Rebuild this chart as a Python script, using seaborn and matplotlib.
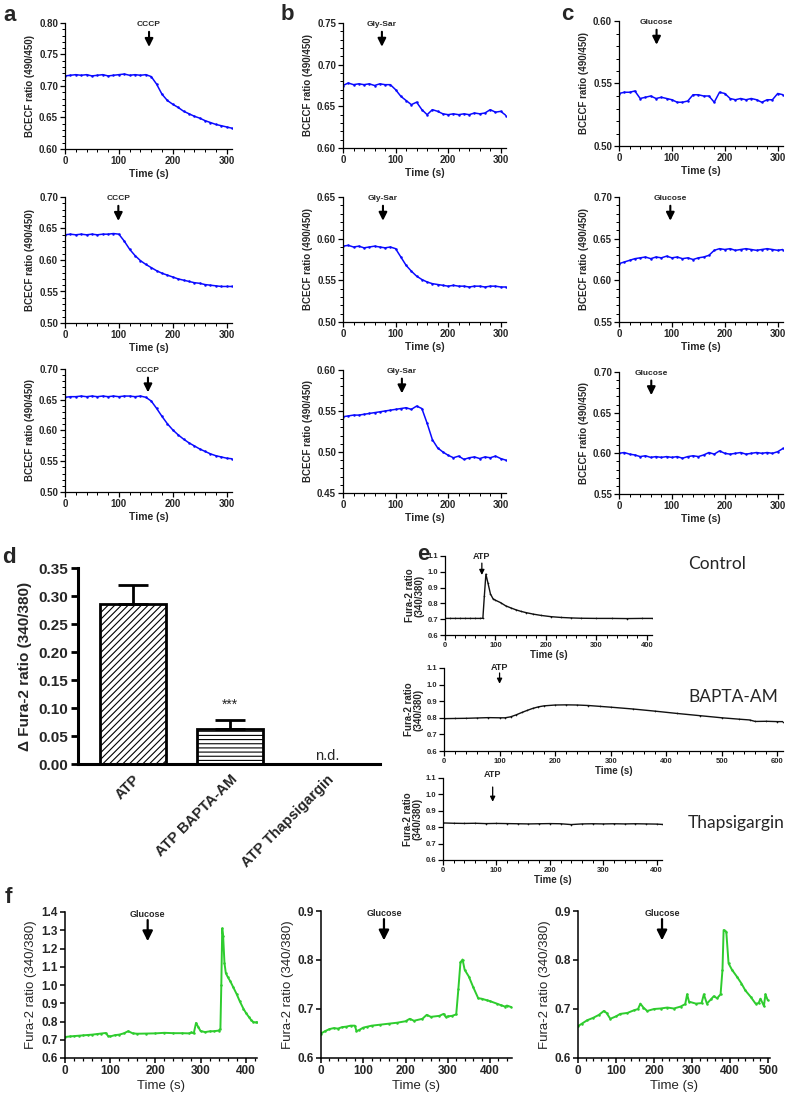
import numpy as np
import pandas as pd
import matplotlib
matplotlib.use('Agg')
import matplotlib.pyplot as plt
import seaborn as sns
from matplotlib.ticker import MultipleLocator, FormatStrFormatter

W, H = 787, 1095
BLUE = '#0a0aff'
GREEN = '#2ecc2e'

# ---- a-c: BCECF ratio traces, one reading every 10 s ----
BCECF_TIME = np.arange(0, 320, 10)

CCCP_1 = [0.716, 0.717, 0.718, 0.717, 0.718, 0.716, 0.717, 0.718, 0.716, 0.717, 0.718, 0.719, 0.717, 0.718, 0.717, 0.718,
          0.715, 0.703, 0.687, 0.677, 0.671, 0.666, 0.660, 0.656, 0.652, 0.649, 0.645, 0.642, 0.639, 0.637, 0.635, 0.633]
CCCP_2 = [0.640, 0.641, 0.640, 0.641, 0.640, 0.641, 0.640, 0.641, 0.641, 0.642, 0.641, 0.630, 0.617, 0.607, 0.599, 0.593,
          0.588, 0.583, 0.579, 0.576, 0.573, 0.570, 0.568, 0.566, 0.564, 0.563, 0.561, 0.560, 0.559, 0.558, 0.558, 0.558]
CCCP_3 = [0.654, 0.655, 0.655, 0.656, 0.655, 0.656, 0.655, 0.656, 0.655, 0.656, 0.655, 0.656, 0.656, 0.655, 0.656, 0.654,
          0.648, 0.636, 0.623, 0.611, 0.601, 0.593, 0.586, 0.580, 0.575, 0.570, 0.566, 0.562, 0.559, 0.557, 0.555, 0.554]

GLYSAR_1 = [0.675, 0.678, 0.676, 0.677, 0.676, 0.677, 0.675, 0.677, 0.676, 0.676, 0.670, 0.662, 0.657, 0.652, 0.655, 0.646,
            0.640, 0.646, 0.644, 0.641, 0.640, 0.641, 0.640, 0.641, 0.640, 0.642, 0.641, 0.642, 0.646, 0.643, 0.644, 0.639]
GLYSAR_2 = [0.591, 0.592, 0.590, 0.591, 0.589, 0.590, 0.591, 0.590, 0.589, 0.590, 0.588, 0.578, 0.568, 0.561, 0.555, 0.551,
            0.548, 0.546, 0.545, 0.544, 0.543, 0.544, 0.543, 0.543, 0.542, 0.543, 0.543, 0.542, 0.543, 0.543, 0.542, 0.542]
GLYSAR_3 = [0.543, 0.544, 0.545, 0.545, 0.546, 0.547, 0.548, 0.549, 0.550, 0.551, 0.552, 0.553, 0.554, 0.552, 0.556, 0.553,
            0.535, 0.515, 0.505, 0.500, 0.496, 0.493, 0.495, 0.491, 0.493, 0.494, 0.492, 0.494, 0.493, 0.495, 0.492, 0.490]

GLUC_1 = [0.542, 0.543, 0.543, 0.544, 0.538, 0.539, 0.540, 0.538, 0.539, 0.538, 0.537, 0.535, 0.535, 0.536, 0.541, 0.541,
          0.540, 0.540, 0.535, 0.543, 0.542, 0.538, 0.537, 0.538, 0.537, 0.538, 0.537, 0.535, 0.537, 0.537, 0.542, 0.541]
GLUC_2 = [0.620, 0.622, 0.624, 0.626, 0.627, 0.628, 0.626, 0.628, 0.627, 0.629, 0.627, 0.628, 0.626, 0.627, 0.625, 0.627,
          0.628, 0.630, 0.636, 0.638, 0.637, 0.638, 0.636, 0.637, 0.638, 0.637, 0.636, 0.637, 0.638, 0.637, 0.636, 0.637]
GLUC_3 = [0.600, 0.601, 0.599, 0.598, 0.596, 0.597, 0.595, 0.596, 0.595, 0.596, 0.595, 0.596, 0.594, 0.596, 0.597, 0.596,
          0.598, 0.601, 0.599, 0.603, 0.600, 0.599, 0.600, 0.601, 0.599, 0.600, 0.601, 0.600, 0.601, 0.600, 0.602, 0.606]

CCCP_ADD = [156, 99, 154]
GLYSAR_ADD = [74, 76, 112]
GLUC_ADD = [71, 97, 61]

CCCP_YLIM = [(0.60, 0.80), (0.50, 0.70), (0.50, 0.70)]
GLYSAR_YLIM = [(0.60, 0.75), (0.50, 0.65), (0.45, 0.60)]
GLUC_YLIM = [(0.50, 0.60), (0.55, 0.70), (0.55, 0.70)]

# ---- d: delta Fura-2 ratio ----
D_CONDITIONS = ['ATP', 'ATP BAPTA-AM', 'ATP Thapsigargin']
D_MEAN = [0.285, 0.063, 0.0]
D_SEM = [0.034, 0.016, 0.0]

# ---- e: Fura-2 traces after ATP ----
CTRL_TIME = [0, 10, 20, 30, 40, 50, 60, 70, 75, 78, 81, 85, 90, 95, 100, 110, 120, 130, 140, 150, 160, 175, 190,
             210, 230, 250, 270, 300, 330, 360, 390, 410]
CTRL_RATIO = [0.705, 0.705, 0.705, 0.705, 0.705, 0.705, 0.705, 0.705, 0.706, 0.85, 0.985, 0.93, 0.86, 0.83, 0.82,
              0.805, 0.785, 0.772, 0.760, 0.750, 0.742, 0.732, 0.724, 0.716, 0.711, 0.708, 0.706, 0.705, 0.705,
              0.704, 0.705, 0.705]
BAPTA_TIME = [0, 20, 40, 60, 80, 100, 110, 120, 130, 140, 150, 160, 170, 180, 200, 220, 240, 260, 280, 300, 340,
              380, 420, 460, 500, 530, 550, 560, 580, 600, 610]
BAPTA_RATIO = [0.795, 0.796, 0.797, 0.799, 0.801, 0.800, 0.800, 0.806, 0.818, 0.832, 0.845, 0.857, 0.866, 0.872,
               0.877, 0.878, 0.877, 0.874, 0.869, 0.864, 0.853, 0.840, 0.826, 0.813, 0.800, 0.792, 0.787, 0.778,
               0.779, 0.777, 0.777]
THAPS_TIME = [0, 20, 40, 60, 80, 100, 120, 140, 160, 180, 200, 220, 240, 260, 280, 300, 320, 340, 360, 380, 400, 410]
THAPS_RATIO = [0.826, 0.824, 0.823, 0.824, 0.822, 0.823, 0.822, 0.821, 0.820, 0.821, 0.822, 0.821, 0.816, 0.820,
               0.821, 0.820, 0.821, 0.820, 0.821, 0.820, 0.819, 0.817]
E_NAMES = ['Control', 'BAPTA-AM', 'Thapsigargin']
E_ATP_ADD = [73, 100, 93]

# ---- f: Fura-2 traces after glucose ----
F1_TIME = [0, 10, 20, 30, 40, 50, 60, 70, 80, 90, 95, 100, 110, 120, 130, 140, 150, 160, 180, 200, 220, 240, 260,
           275, 280, 285, 290, 295, 300, 310, 320, 330, 340, 344, 346, 348, 350, 353, 356, 360, 366, 372, 380, 387,
           395, 401, 407, 412, 417, 422, 425]
F1_RATIO = [0.715, 0.718, 0.720, 0.722, 0.724, 0.726, 0.728, 0.731, 0.734, 0.737, 0.722, 0.718, 0.725, 0.728, 0.735,
            0.747, 0.735, 0.733, 0.734, 0.735, 0.738, 0.736, 0.736, 0.735, 0.740, 0.735, 0.792, 0.770, 0.748, 0.742,
            0.746, 0.747, 0.750, 0.760, 1.00, 1.31, 1.27, 1.12, 1.065, 1.045, 1.02, 0.99, 0.95, 0.91, 0.87, 0.845,
            0.825, 0.808, 0.797, 0.795, 0.797]
F2_TIME = [0, 10, 20, 30, 40, 50, 60, 70, 80, 84, 90, 100, 110, 120, 140, 160, 180, 200, 210, 220, 240, 250, 260,
           280, 290, 295, 300, 310, 320, 325, 330, 335, 340, 350, 360, 372, 380, 392, 400, 416, 425, 435, 440, 450]
F2_RATIO = [0.650, 0.655, 0.659, 0.661, 0.660, 0.663, 0.664, 0.666, 0.666, 0.655, 0.657, 0.662, 0.664, 0.666, 0.668,
            0.670, 0.672, 0.675, 0.680, 0.676, 0.680, 0.688, 0.684, 0.686, 0.690, 0.684, 0.685, 0.686, 0.689, 0.740,
            0.795, 0.801, 0.780, 0.766, 0.745, 0.722, 0.721, 0.718, 0.716, 0.711, 0.708, 0.705, 0.707, 0.704]
F3_TIME = [0, 10, 24, 40, 55, 68, 75, 85, 100, 111, 130, 146, 158, 164, 172, 182, 200, 217, 235, 252, 270, 282, 287,
           292, 310, 325, 331, 339, 350, 357, 366, 375, 380, 383, 390, 396, 405, 418, 430, 440, 454, 467, 475, 480,
           489, 493, 499]
F3_RATIO = [0.665, 0.670, 0.677, 0.682, 0.688, 0.696, 0.692, 0.680, 0.685, 0.690, 0.692, 0.697, 0.700, 0.711, 0.703,
            0.696, 0.700, 0.701, 0.703, 0.701, 0.705, 0.710, 0.730, 0.715, 0.711, 0.712, 0.730, 0.711, 0.720, 0.726,
            0.722, 0.730, 0.780, 0.861, 0.858, 0.793, 0.780, 0.766, 0.752, 0.738, 0.725, 0.711, 0.712, 0.721, 0.706,
            0.730, 0.718]
F_GLUC_ADD = [183, 149, 221]
F_YLIM = [(0.6, 1.4), (0.6, 0.9), (0.6, 0.9)]
F_XLIM = [425, 452, 505]


def px_axes(fig, box):
    # box in pixels: left, top, right, bottom
    x0, y0, x1, y1 = box
    return fig.add_axes([x0 / W, 1 - y1 / H, (x1 - x0) / W, (y1 - y0) / H])


def draw_trace(ax, t, v, color, lw, ms):
    df = pd.DataFrame({'t': t, 'v': v})
    sns.lineplot(data=df, x='t', y='v', ax=ax, color=color, linewidth=lw, estimator=None,
                 marker='o', markersize=ms, markeredgewidth=0)


def style_axes(ax, xlim, ylim, ymaj, ymin, yfmt, tick_fs, spine_lw, xmin=20):
    sns.despine(ax=ax)
    ax.set_xlim(*xlim)
    ax.set_ylim(*ylim)
    ax.xaxis.set_major_locator(MultipleLocator(100))
    ax.xaxis.set_minor_locator(MultipleLocator(xmin))
    ax.yaxis.set_major_locator(MultipleLocator(ymaj))
    if ymin:
        ax.yaxis.set_minor_locator(MultipleLocator(ymin))
    ax.yaxis.set_major_formatter(FormatStrFormatter(yfmt))
    for s in ('left', 'bottom'):
        ax.spines[s].set_linewidth(spine_lw)
        ax.spines[s].set_color('black')
    ax.tick_params(which='major', direction='out', length=3.5, width=spine_lw, labelsize=tick_fs, pad=1.5,
                   color='black')
    ax.tick_params(which='minor', direction='out', length=2, width=spine_lw * 0.8, color='black')


def add_marker(ax, t, label, fs, y_text, y0, y1, lw, scale, weight='bold'):
    tr = ax.get_xaxis_transform()
    ax.annotate('', xy=(t, y1), xytext=(t, y0), xycoords=tr, textcoords=tr, annotation_clip=False,
                arrowprops=dict(arrowstyle='-|>,head_length=0.6,head_width=0.3', color='black', lw=lw,
                                mutation_scale=scale, shrinkA=0, shrinkB=0))
    ax.text(t, y_text, label, transform=tr, ha='center', va='center', fontsize=fs, fontweight=weight,
            clip_on=False)


def main():
    sns.set_theme(style='ticks')
    plt.rcParams['font.family'] = ['Liberation Sans', 'DejaVu Sans']
    plt.rcParams['font.weight'] = 'bold'
    plt.rcParams['axes.labelweight'] = 'bold'
    plt.rcParams['hatch.linewidth'] = 0.8

    fig = plt.figure(figsize=(W / 100, H / 100), dpi=100)

    # ---- a, b, c ----
    columns = [
        ([CCCP_1, CCCP_2, CCCP_3], CCCP_ADD, CCCP_YLIM, 'CCCP',
         [(65, 23, 232, 149), (65, 197, 232, 323), (65, 369, 232, 492)]),
        ([GLYSAR_1, GLYSAR_2, GLYSAR_3], GLYSAR_ADD, GLYSAR_YLIM, 'Gly-Sar',
         [(343, 23, 506, 148), (343, 197, 506, 322), (343, 370, 506, 493)]),
        ([GLUC_1, GLUC_2, GLUC_3], GLUC_ADD, GLUC_YLIM, 'Glucose',
         [(619, 21, 783, 146), (619, 197, 783, 322), (619, 372, 783, 494)]),
    ]
    for traces, adds, ylims, drug, boxes in columns:
        for v, t_add, ylim, box in zip(traces, adds, ylims, boxes):
            ax = px_axes(fig, box)
            draw_trace(ax, BCECF_TIME, v, BLUE, 1.1, 1.8)
            style_axes(ax, (0, 310), ylim, 0.05, 0.01, '%.2f', 7, 0.9)
            ax.set_xlabel('Time (s)', fontsize=7.5, labelpad=2)
            ax.set_ylabel('BCECF ratio (490/450)', fontsize=7, labelpad=3)
            add_marker(ax, t_add, drug, 6, 0.99, 0.93, 0.81, 1.5, 8)

    # ---- d ----
    ax = px_axes(fig, (78, 568, 380, 764))
    df_d = pd.DataFrame({'cond': D_CONDITIONS, 'val': D_MEAN})
    sns.barplot(data=df_d, x='cond', y='val', ax=ax, color='white', edgecolor='black', linewidth=2,
                width=0.68, errorbar=None, saturation=1)
    for p, hatch in zip(ax.patches, ['/////', '----', '']):
        p.set_hatch(hatch)
        p.set_facecolor('white')
    for p, m, e in zip(ax.patches, D_MEAN, D_SEM):
        if e > 0:
            ax.errorbar(p.get_x() + p.get_width() / 2, m, yerr=[[0], [e]], fmt='none', ecolor='black',
                        elinewidth=2, capsize=11, capthick=2, zorder=1)
    ax.text(1, 0.105, '***', ha='center', va='center', fontsize=10, fontweight='normal')
    ax.text(2, 0.001, 'n.d.', ha='center', va='bottom', fontsize=10.5, fontweight='normal')
    sns.despine(ax=ax)
    ax.set_xlim(-0.57, 2.55)
    ax.set_ylim(0, 0.35)
    ax.yaxis.set_major_locator(MultipleLocator(0.05))
    ax.yaxis.set_major_formatter(FormatStrFormatter('%.2f'))
    for s in ('left', 'bottom'):
        ax.spines[s].set_linewidth(2.2)
        ax.spines[s].set_color('black')
    ax.tick_params(axis='y', direction='out', length=5, width=2, labelsize=11, pad=2, color='black')
    ax.tick_params(axis='x', length=0, labelsize=10.5, pad=6)
    plt.setp(ax.get_xticklabels(), rotation=45, ha='right', rotation_mode='anchor')
    ax.set_xlabel('')
    ax.set_ylabel('\u0394 Fura-2 ratio (340/380)', fontsize=11, labelpad=5)

    # ---- e ----
    e_sets = [
        (CTRL_TIME, CTRL_RATIO, (445, 556, 652, 635), 410, (0.99, 0.91, 0.76), 569),
        (BAPTA_TIME, BAPTA_RATIO, (444, 668, 783, 751), 610, (1.01, 0.94, 0.81), 702),
        (THAPS_TIME, THAPS_RATIO, (443, 778, 662, 860), 410, (1.04, 0.89, 0.71), 828),
    ]
    for (t, v, box, xmax, ypos, name_y), name, t_add in zip(e_sets, E_NAMES, E_ATP_ADD):
        ax = px_axes(fig, box)
        draw_trace(ax, t, v, '#111111', 1.0, 1.2)
        style_axes(ax, (0, xmax), (0.6, 1.1), 0.1, None, '%.1f', 5.5, 0.9)
        ax.set_xlabel('Time (s)', fontsize=7, labelpad=1)
        ax.set_ylabel('Fura-2 ratio\n(340/380)', fontsize=7, labelpad=2, linespacing=1.0)
        add_marker(ax, t_add, 'ATP', 6.5, ypos[0], ypos[1], ypos[2], 0.9, 5)
        fig.text(688 / W, 1 - name_y / H, name, fontsize=12.5, fontweight='normal', family='Lato',
                 ha='left', va='baseline')

    # ---- f ----
    f_sets = [(F1_TIME, F1_RATIO, (65, 912, 257, 1058)),
              (F2_TIME, F2_RATIO, (321, 911, 512, 1058)),
              (F3_TIME, F3_RATIO, (578, 911, 770, 1058))]
    for (t, v, box), ylim, xmax, t_add in zip(f_sets, F_YLIM, F_XLIM, F_GLUC_ADD):
        ax = px_axes(fig, box)
        draw_trace(ax, t, v, GREEN, 1.4, 1.8)
        style_axes(ax, (0, xmax), ylim, 0.1, None, '%.1f', 8.5, 1.1)
        ax.set_xlabel('Time (s)', fontsize=9.5, fontweight='normal', labelpad=2)
        ax.set_ylabel('Fura-2 ratio (340/380)', fontsize=9.5, fontweight='normal', labelpad=3)
        add_marker(ax, t_add, 'Glucose', 6.5, 0.985, 0.945, 0.80, 1.6, 10)

    # panel letters
    for letter, x, y in [('a', 10, 21), ('b', 287, 20), ('c', 567, 20), ('d', 9, 563), ('e', 423, 560),
                         ('f', 8, 903)]:
        fig.text(x / W, 1 - y / H, letter, fontsize=16, fontweight='bold', ha='center', va='baseline')

    fig.savefig('out.png', dpi=100)


if __name__ == '__main__':
    main()
